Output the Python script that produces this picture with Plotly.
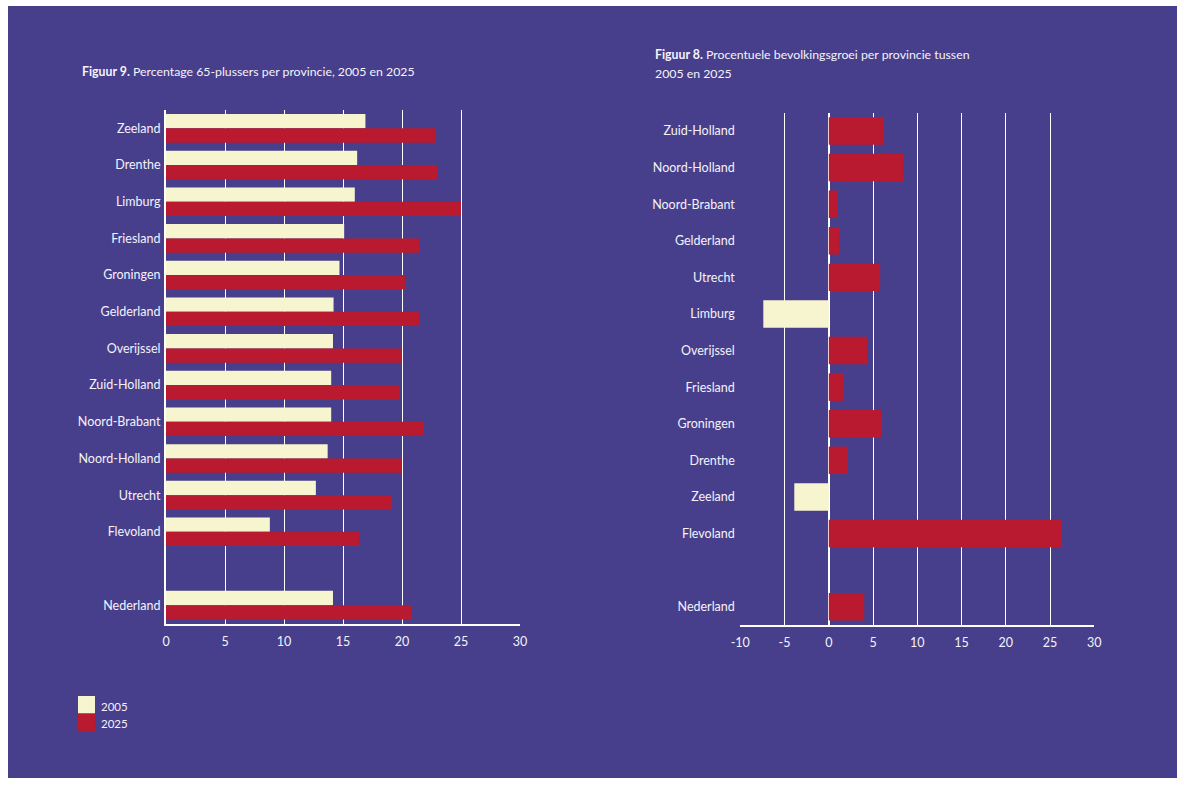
import plotly.graph_objects as go

W, H = 1184, 785

# Figuur 9: share of 65+ per province (%)
provinces_65 = ["Zeeland", "Drenthe", "Limburg", "Friesland", "Groningen", "Gelderland",
                "Overijssel", "Zuid-Holland", "Noord-Brabant", "Noord-Holland", "Utrecht", "Flevoland"]
pct65_2005 = [16.9, 16.2, 16.0, 15.1, 14.7, 14.2, 14.15, 14.0, 14.0, 13.7, 12.7, 8.8]
pct65_2025 = [22.85, 23.0, 25.0, 21.45, 20.25, 21.45, 20.0, 19.8, 21.85, 19.95, 19.15, 16.4]
nl_pct65_2005 = 14.15
nl_pct65_2025 = 20.8

# Figuur 8: population growth 2005-2025 per province (%)
provinces_growth = ["Zuid-Holland", "Noord-Holland", "Noord-Brabant", "Gelderland", "Utrecht", "Limburg",
                    "Overijssel", "Friesland", "Groningen", "Drenthe", "Zeeland", "Flevoland"]
growth = [6.2, 8.4, 1.0, 1.2, 5.8, -7.4, 4.35, 1.65, 5.95, 2.15, -3.9, 26.35]
nl_growth = 4.0

years = ["2005", "2025"]
ticks_left = [0, 5, 10, 15, 20, 25, 30]
ticks_right = [-10, -5, 0, 5, 10, 15, 20, 25, 30]

PURPLE = "#473F8B"
CREAM = "#F7F5CF"
RED = "#BA1A30"
TEXT = "#F4F2FA"
FONT = "Lato"

# rows 0..11 are provinces, row 12 stays empty, row 13 is the national total
rows = list(range(len(provinces_65))) + [len(provinces_65) + 1]
labels_65 = provinces_65 + ["Nederland"]
labels_growth = provinces_growth + ["Nederland"]


def px_x(v):
    return v / W


def px_y(v):
    return (H - v) / H


fig = go.Figure()

fig.add_trace(go.Bar(y=rows, x=pct65_2005 + [nl_pct65_2005], orientation="h", name=years[0],
                     marker=dict(color=CREAM, line=dict(width=0)), xaxis="x", yaxis="y",
                     showlegend=False, hoverinfo="x+y"))
fig.add_trace(go.Bar(y=rows, x=pct65_2025 + [nl_pct65_2025], orientation="h", name=years[1],
                     marker=dict(color=RED, line=dict(width=0)), xaxis="x", yaxis="y",
                     showlegend=False, hoverinfo="x+y"))

growth_all = growth + [nl_growth]
fig.add_trace(go.Bar(y=rows, x=growth_all, orientation="h", width=0.75,
                     marker=dict(color=[RED if v >= 0 else CREAM for v in growth_all], line=dict(width=0)),
                     xaxis="x2", yaxis="y2", showlegend=False, hoverinfo="x+y"))

tickfont = dict(family=FONT, size=12.5, color=TEXT)

axis_common = dict(showgrid=True, gridcolor="white", gridwidth=1, showline=True, linecolor="white",
                   linewidth=2, ticks="outside", ticklen=5, tickcolor=PURPLE, tickfont=tickfont,
                   fixedrange=True, automargin=False)

fig.update_layout(
    width=W, height=H,
    autosize=False,
    showlegend=False,
    margin=dict(l=0, r=0, t=0, b=0, pad=0, autoexpand=False),
    paper_bgcolor="white",
    plot_bgcolor="rgba(0,0,0,0)",
    barmode="group", bargap=0.22, bargroupgap=0,
    xaxis=dict(domain=[px_x(166), px_x(520)], range=[0, 30], tickvals=ticks_left,
               zeroline=False, anchor="y", **axis_common),
    yaxis=dict(domain=[px_y(623.5), px_y(110)], range=[13.5, -0.5], tickvals=rows, ticktext=labels_65,
               showgrid=False, zeroline=False, showline=True, linecolor="white", linewidth=2,
               ticks="outside", ticklen=1, tickcolor=PURPLE, tickfont=tickfont, anchor="x",
               fixedrange=True, automargin=False),
    xaxis2=dict(domain=[px_x(740.3), px_x(1094.3)], range=[-10, 30], tickvals=ticks_right,
                ticktext=[str(t) for t in ticks_right],
                zeroline=True, zerolinecolor="white", zerolinewidth=2, anchor="y2", **axis_common),
    yaxis2=dict(domain=[px_y(625), px_y(112.7)], range=[13.5, -0.5], tickvals=rows, ticktext=labels_growth,
                showgrid=False, zeroline=False, showline=False,
                ticks="outside", ticklen=2, tickcolor=PURPLE, tickfont=tickfont, anchor="x2",
                fixedrange=True, automargin=False),
)

# purple panel behind both charts
fig.add_shape(type="rect", xref="paper", yref="paper", x0=px_x(8), x1=px_x(1177), y0=px_y(778), y1=px_y(6),
              fillcolor=PURPLE, line=dict(width=0), layer="below")

title_font = dict(family=FONT, size=12.3, color=TEXT)
fig.add_annotation(text="<b>Figuur 9.</b> Percentage 65-plussers per provincie, 2005 en 2025",
                   xref="paper", yref="paper", x=px_x(80), y=px_y(72), xanchor="left", yanchor="middle",
                   showarrow=False, font=title_font)
fig.add_annotation(text="<b>Figuur 8.</b> Procentuele bevolkingsgroei per provincie tussen",
                   xref="paper", yref="paper", x=px_x(653), y=px_y(55), xanchor="left", yanchor="middle",
                   showarrow=False, font=title_font)
fig.add_annotation(text="2005 en 2025",
                   xref="paper", yref="paper", x=px_x(653), y=px_y(74), xanchor="left", yanchor="middle",
                   showarrow=False, font=title_font)

# legend swatches
legend_colors = [CREAM, RED]
for i, (yr, col) in enumerate(zip(years, legend_colors)):
    top = 696 + i * 17.5
    fig.add_shape(type="rect", xref="paper", yref="paper", x0=px_x(78), x1=px_x(95),
                  y0=px_y(top + 17.5), y1=px_y(top), fillcolor=col, line=dict(width=0))
    fig.add_annotation(text=yr, xref="paper", yref="paper", x=px_x(99), y=px_y(top + 10),
                       xanchor="left", yanchor="middle", showarrow=False,
                       font=dict(family=FONT, size=11.5, color=TEXT))

fig.write_html("out.html",
               post_script="document.body.style.margin='0';document.body.style.overflow='hidden';")
